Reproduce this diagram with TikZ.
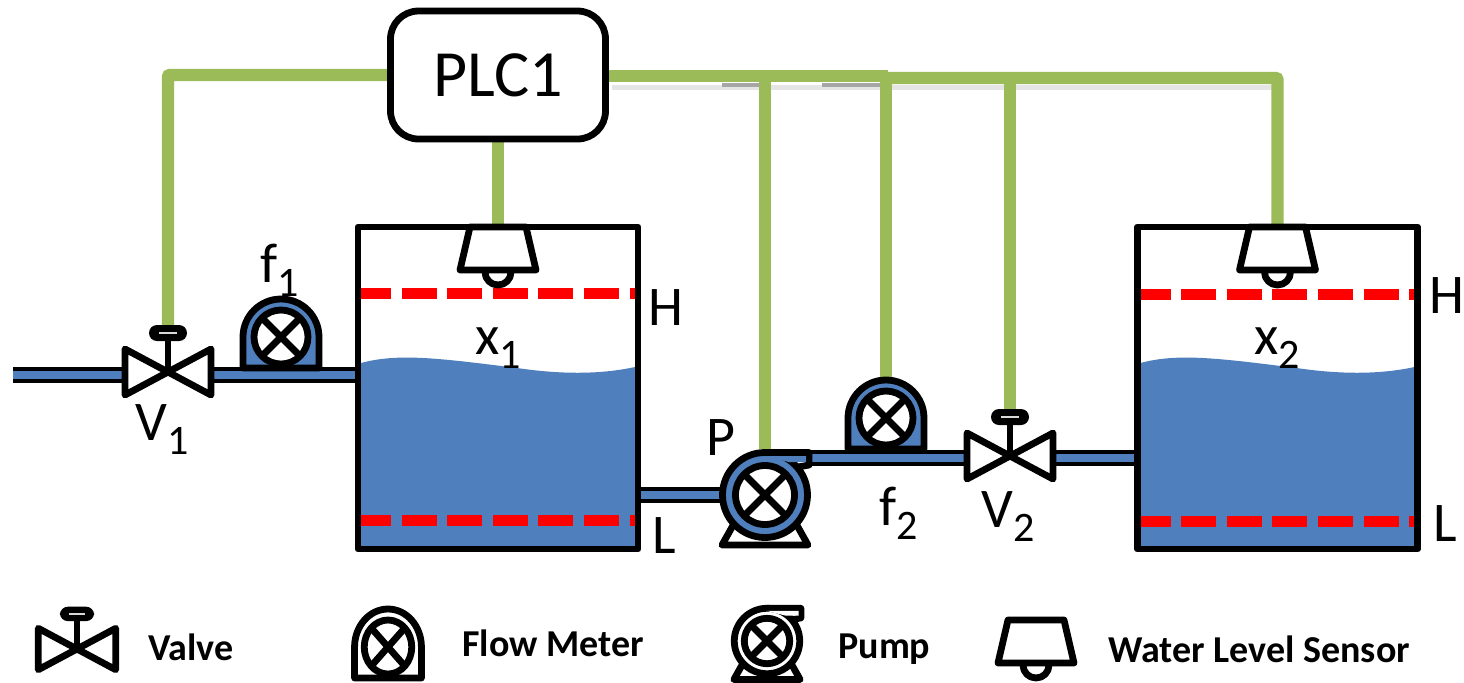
\documentclass[tikz,border=0pt]{standalone}
\usepackage{fontspec}
\setmainfont{Carlito}
\usepackage{tikz}
\usetikzlibrary{backgrounds}
\definecolor{waterblue}{HTML}{4F7FBC}
\definecolor{wiregreen}{HTML}{9BBB59}
\newcommand{\sublab}[2]{#1\raisebox{-7pt}{\fontsize{21pt}{21pt}\selectfont #2}}
\tikzstyle{devline}=[
	line width=3.4pt,
	line join=round,
	draw=black
]
\tikzstyle{wire}=[
	line width=6.2pt,
	draw=wiregreen,
	rounded corners=1pt
]
\tikzstyle{pipeline}=[
	line width=1.9pt,
	draw=black,
	double=waterblue,
	double distance=4pt
]
\tikzstyle{level}=[
	line width=5.5pt,
	draw=red,
	dash pattern=on 17.5pt off 5.3pt,
	dash phase=2.5pt
]
\tikzstyle{tankbox}=[
	devline,
	inner sep=0,
	minimum width=140pt,
	minimum height=161pt
]
\tikzstyle{lab}=[
	inner sep=0,
	anchor=base,
	font=\fontsize{28pt}{28pt}\selectfont
]
\tikzstyle{legtext}=[
	inner sep=0,
	anchor=base west,
	font=\bfseries\fontsize{19pt}{19pt}\selectfont
]
\tikzset{
	pics/valve/.style={code={
		\draw[devline, fill=white] (-43,-23) -- (0,0) -- (-43,23) -- cycle;
		\draw[devline, fill=white] (43,-23) -- (0,0) -- (43,23) -- cycle;
		\draw[devline] (0,0) -- (0,-36);
		\fill[black, rounded corners=4pt] (-19,-47) rectangle (19,-31);
		\fill[gray!30] (-9,-40.5) rectangle (9,-38);
		\coordinate (-top) at (0,-47);
		\coordinate (-west) at (-43,0);
		\coordinate (-east) at (43,0);
	}},
	pics/flowmeter/.style={code={
		\draw[devline, fill=#1] (-38,31) -- (-38,0) arc[start angle=180, end angle=360, radius=38] -- (38,31) -- cycle;
		\draw[devline, fill=white] (0,0) circle[radius=27];
		\draw[devline] (-19,-19) -- (19,19);
		\draw[devline] (-19,19) -- (19,-19);
		\coordinate (-top) at (0,-41);
	}},
	pics/pump/.style={code={
		\draw[devline, fill=white] (-29,25) -- (-43,50) -- (43,50) -- (29,25) -- cycle;
		\draw[devline, fill=#1] (0,0) circle[radius=42.5];
		\draw[devline] (0,-42.5) -- (44,-42.5) -- (44,-30) -- (33,-28);
		\fill[#1] (0,-39) -- (41,-39) -- (41,-33) -- (24,-33) -- cycle;
		\draw[devline, fill=white] (0,0) circle[radius=29.5];
		\draw[devline] (-20,-20) -- (20,20);
		\draw[devline] (-20,20) -- (20,-20);
		\coordinate (-top) at (0,-46);
		\coordinate (-west) at (-44,0);
		\coordinate (-east) at (44,-37);
	}},
	pics/sensor/.style={code={
		\draw[devline] (-13,45) arc[start angle=180, end angle=0, radius=13];
		\draw[devline, fill=white] (-28,0) -- (28,0) -- (38,43) -- (-38,43) -- cycle;
		\coordinate (-top) at (0,0);
	}}
}

\begin{document}
\begin{tikzpicture}[x=0.5pt, y=-0.5pt]
\useasboundingbox (0,0) rectangle (1464,682);

\node[devline, fill=white, rounded corners=14pt, inner sep=0, minimum width=107.5pt,
      minimum height=64pt, font=\fontsize{33pt}{33pt}\selectfont] at (498,75) (plc) {PLC1};

\foreach \n/\xc/\yh/\yl in {1/498/293/520, 2/1277.5/294/521}{
    \begin{scope}[shift={(\xc,0)}]
        \fill[waterblue] (-137,363) .. controls (-100,353) and (-60,358) .. (19,368)
            .. controls (60,374) and (100,375) .. (137,367) -- (137,549) -- (-137,549) -- cycle;
        \draw[level] (-137,\yh) -- (137,\yh);
        \draw[level] (-137,\yl) -- (137,\yl);
    \end{scope}
    \node[tankbox] at (\xc,388) (tank\n) {};
    \pic (sensor\n) at (\xc,227) {sensor};
    \node[lab] at (\xc,354) (x\n) {\sublab{x}{\n}};
}

\coordinate (inlet) at (13,375);
\pic (valve1) at (168,372) {valve};
\pic (meter1) at (281,337) {flowmeter=waterblue};
\pic (pump) at (765,495) {pump=waterblue};
\pic (meter2) at (886,418) {flowmeter=waterblue};
\pic (valve2) at (1010,456) {valve};
\coordinate (busleft) at (888,76);
\coordinate (busmid) at (888,78);

\begin{pgfonlayer}{background}
% shadow under the bus
\draw[gray!20, line width=2.5pt] (612,87) -- (1272,87);
\draw[gray!70, line width=2pt] (722,85) -- (759,85);
\draw[gray!70, line width=2pt] (822,85) -- (880,85);

\draw[wire] (plc.west) -| (valve1-top);
\draw[wire] (plc.south) -- (sensor1-top);
\draw[wire] (plc.east |- busleft) -- (busleft);
\draw[wire] (busmid) -| (sensor2-top);
\draw[wire] (busleft -| pump-top) -- (pump-top);
\draw[wire] (busleft -| meter2-top) -- (meter2-top);
\draw[wire] (busmid -| valve2-top) -- (valve2-top);

\draw[pipeline] (inlet) -- (inlet -| valve1-west);
\draw[pipeline] (inlet -| valve1-east) -- (inlet -| tank1.west);
\draw[pipeline] (tank1.east |- pump-west) -- (pump-west);
\draw[pipeline] (pump-east) -- (pump-east -| valve2-west);
\draw[pipeline] (pump-east -| valve2-east) -- (pump-east -| tank2.west);
\end{pgfonlayer}

\foreach \t/\x/\y in {H/666/325, L/664/553, H/1447/313, L/1445/541, P/721/455}{
    \node[lab] at (\x,\y) {\t};
}
\node[lab] at (280,282) (f1) {\sublab{f}{1}};
\node[lab] at (162,440) (V1) {\sublab{V}{1}};
\node[lab] at (899,525) (f2) {\sublab{f}{2}};
\node[lab] at (1008,527) (V2) {\sublab{V}{2}};

% legend
\pic[scale=0.9] (legvalve) at (77,649) {valve};
\pic[xscale=0.88] (legmeter) at (388,647) {flowmeter=white};
\pic[scale=0.77] (legpump) at (767,641) {pump=white};
\pic (legsensor) at (1036,620) {sensor};
\node[legtext] at (148,660) (lvalve) {Valve};
\node[legtext] at (462,656) (lmeter) {Flow Meter};
\node[legtext] at (838,658) (lpump) {Pump};
\node[legtext] at (1108,662) (lsensor) {Water Level Sensor};
\end{tikzpicture}
\end{document}
